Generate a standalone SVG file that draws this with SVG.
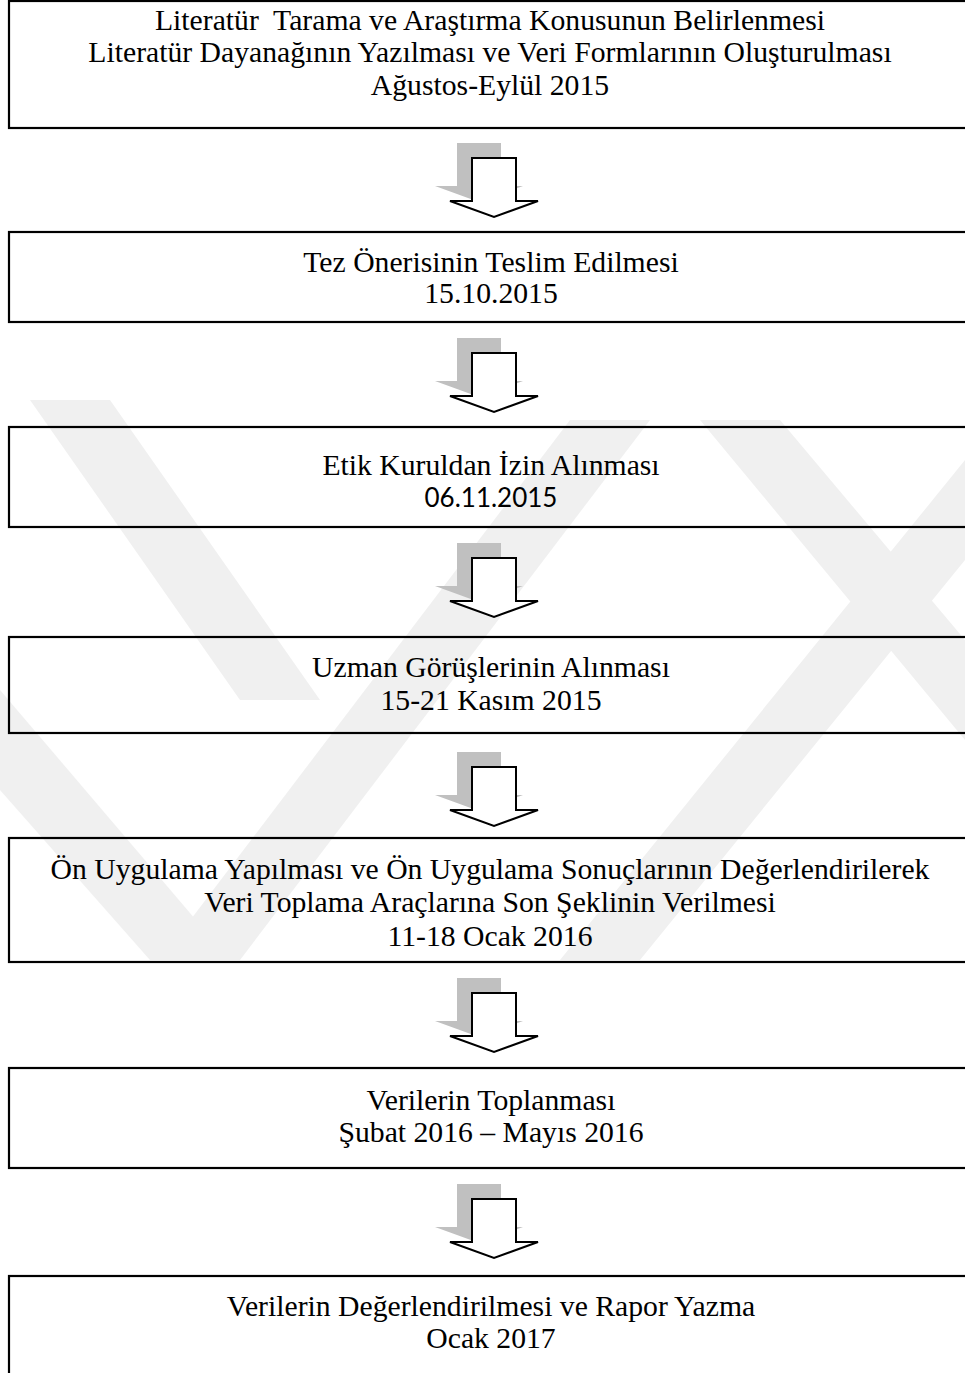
<svg xmlns="http://www.w3.org/2000/svg" width="965" height="1373" viewBox="0 0 965 1373">
<style>
.box{fill:none;stroke:#000000;stroke-width:2.2}
.t{font-family:"Liberation Serif","Times New Roman",serif;font-size:29.7px;fill:#000000;text-anchor:middle}
.c{font-family:Lato,"Open Sans",sans-serif;font-size:26px;fill:#000000;text-anchor:middle}
.sh{fill:#c0c0c0;stroke:none}
.ar{fill:#ffffff;stroke:#000000;stroke-width:2;stroke-linejoin:miter}
.wm{fill:#f0f0f0;stroke:none}
</style>
<defs>
<g id="arrowShape">
<path class="sh" d="M457,-15 H501 V28 H523 L479,44 L435,28 H457 Z"/>
<path class="ar" d="M472,0 H516 V43 H538 L494,59 L450,43 H472 Z"/>
</g>
</defs>
<rect width="965" height="1373" fill="#ffffff"/>
<g id="watermark">
<polygon class="wm" points="30,400 110,400 320,700 240,700"/>
<polygon class="wm" points="0,690 0,790 150,960 230,960"/>
<polygon class="wm" points="160,960 240,960 650,420 570,420"/>
<polygon class="wm" points="700,420 780,420 965,640 965,740"/>
<polygon class="wm" points="560,960 640,960 965,560 965,460"/>
</g>
<g id="connectors">
<use href="#arrowShape" transform="translate(0,158)"/>
<use href="#arrowShape" transform="translate(0,353)"/>
<use href="#arrowShape" transform="translate(0,558)"/>
<use href="#arrowShape" transform="translate(0,767)"/>
<use href="#arrowShape" transform="translate(0,993)"/>
<use href="#arrowShape" transform="translate(0,1199)"/>
</g>
<g id="node1">
<rect class="box" x="9" y="1" width="962" height="127"/>
<text class="t" x="490" y="30" style="white-space:pre">Literatür  Tarama ve Araştırma Konusunun Belirlenmesi</text>
<text class="t" x="490" y="62">Literatür Dayanağının Yazılması ve Veri Formlarının Oluşturulması</text>
<text class="t" x="490" y="95">Ağustos-Eylül 2015</text>
</g>
<g id="node2">
<rect class="box" x="9" y="232" width="962" height="90"/>
<text class="t" x="491" y="272">Tez Önerisinin Teslim Edilmesi</text>
<text class="t" x="491" y="303">15.10.2015</text>
</g>
<g id="node3">
<rect class="box" x="9" y="427" width="962" height="100"/>
<text class="t" x="491" y="475">Etik Kuruldan İzin Alınması</text>
<text class="c" x="491" y="507">06.11.2015</text>
</g>
<g id="node4">
<rect class="box" x="9" y="637" width="962" height="96"/>
<text class="t" x="491" y="677">Uzman Görüşlerinin Alınması</text>
<text class="t" x="491" y="710">15-21 Kasım 2015</text>
</g>
<g id="node5">
<rect class="box" x="9" y="838" width="962" height="124"/>
<text class="t" x="490" y="879">Ön Uygulama Yapılması ve Ön Uygulama Sonuçlarının Değerlendirilerek</text>
<text class="t" x="490" y="912">Veri Toplama Araçlarına Son Şeklinin Verilmesi</text>
<text class="t" x="490" y="946">11-18 Ocak 2016</text>
</g>
<g id="node6">
<rect class="box" x="9" y="1068" width="962" height="100"/>
<text class="t" x="491" y="1110">Verilerin Toplanması</text>
<text class="t" x="491" y="1142">Şubat 2016 – Mayıs 2016</text>
</g>
<g id="node7">
<rect class="box" x="9" y="1276" width="962" height="120"/>
<text class="t" x="491" y="1316">Verilerin Değerlendirilmesi ve Rapor Yazma</text>
<text class="t" x="491" y="1348">Ocak 2017</text>
</g>
</svg>
